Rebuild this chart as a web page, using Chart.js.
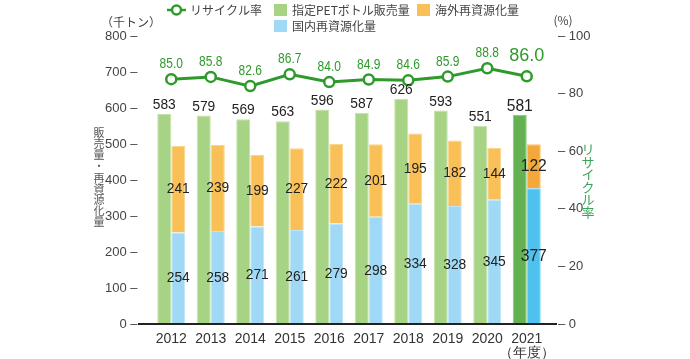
<!DOCTYPE html>
<html>
<head>
<meta charset="utf-8">
<script src="https://cdn.jsdelivr.net/npm/chart.js@4/dist/chart.umd.min.js"></script>
<style>
  html, body { margin: 0; padding: 0; background: #fff; }
  #chart { display: block; }
</style>
</head>
<body>
<canvas id="chart" width="690" height="359"></canvas>
<script>
// Data
const years = ["2012", "2013", "2014", "2015", "2016", "2017", "2018", "2019", "2020", ["2021", "（年度）"]]
const salesVolume = [583, 579, 569, 563, 596, 587, 626, 593, 551, 581]
const domesticVolume = [254, 258, 271, 261, 279, 298, 334, 328, 345, 377]
const overseasVolume = [241, 239, 199, 227, 222, 201, 195, 182, 144, 122]
const recycleRate = [85.0, 85.8, 82.6, 86.7, 84.0, 84.9, 84.6, 85.9, 88.8, 86.0]

const NUM_FONT = "'Liberation Sans', sans-serif"
const JP_FONT = "'Noto Sans CJK JP', sans-serif"

// the last year is highlighted with deeper colours
function colours(normal, last) {
  return salesVolume.map((v, i) => (i === salesVolume.length - 1 ? last : normal))
}

// text squeezed horizontally, the reference uses a narrow face
function narrowText(ctx, text, x, y, sx) {
  ctx.save()
  ctx.translate(x, y)
  ctx.scale(sx, 1)
  ctx.fillText(text, 0, 0)
  ctx.restore()
}

// Legend, axis titles, baseline and value labels
const decorPlugin = {
  id: "decor",
  afterDatasetsDraw(chart) {
    const ctx = chart.ctx
    const area = chart.chartArea
    ctx.save()

    // baseline
    ctx.strokeStyle = "#222"
    ctx.lineWidth = 2
    ctx.beginPath()
    ctx.moveTo(138, area.bottom)
    ctx.lineTo(557, area.bottom)
    ctx.stroke()

    const rateMeta = chart.getDatasetMeta(0)
    const salesMeta = chart.getDatasetMeta(1)
    const domMeta = chart.getDatasetMeta(2)
    const overMeta = chart.getDatasetMeta(3)
    const last = salesVolume.length - 1

    ctx.textAlign = "center"
    ctx.textBaseline = "middle"
    salesVolume.forEach((v, i) => {
      ctx.font = (i === last ? 17 : 15) + "px " + NUM_FONT
      ctx.fillStyle = "#222"
      const s = salesMeta.data[i]
      narrowText(ctx, String(v), s.x, s.y - 9, 0.92)
      const d = domMeta.data[i]
      narrowText(ctx, String(domesticVolume[i]), d.x, (d.y + d.base) / 2, 0.92)
      const o = overMeta.data[i]
      narrowText(ctx, String(overseasVolume[i]), o.x, (o.y + o.base) / 2, 0.92)
      const r = rateMeta.data[i]
      ctx.fillStyle = "#2f9a2c"
      if (i === last) {
        ctx.font = "18px " + NUM_FONT
        narrowText(ctx, recycleRate[i].toFixed(1), r.x, r.y - 20, 1)
      } else {
        ctx.font = "15px " + NUM_FONT
        narrowText(ctx, recycleRate[i].toFixed(1), r.x, r.y - 15, 0.8)
      }
    })

    // unit labels
    ctx.fillStyle = "#444"
    ctx.font = "12px " + JP_FONT
    ctx.fillText("（千トン）", 131, 22)
    ctx.fillText("(%)", 563, 20)

    // vertical axis titles
    ctx.font = "11px " + JP_FONT
    ctx.fillStyle = "#555"
    Array.from("販売量・再資源化量").forEach((ch, i) => ctx.fillText(ch, 99, 133 + i * 11.1))
    ctx.font = "13px " + JP_FONT
    ctx.fillStyle = "#3aa55a"
    Array.from("リサイクル率").forEach((ch, i) => ctx.fillText(ch, 588, 149 + i * 12.6))

    // legend
    ctx.textAlign = "left"
    ctx.font = "12px " + JP_FONT
    ctx.strokeStyle = "#2f9a2c"
    ctx.lineWidth = 2.5
    ctx.beginPath()
    ctx.moveTo(167, 10)
    ctx.lineTo(186, 10)
    ctx.stroke()
    ctx.beginPath()
    ctx.arc(176.5, 10, 4.5, 0, Math.PI * 2)
    ctx.fillStyle = "#fff"
    ctx.fill()
    ctx.stroke()
    ctx.fillStyle = "#444"
    ctx.fillText("リサイクル率", 190, 10)

    const boxes = [
      ["#a7d384", "指定PETボトル販売量", 274, 10],
      ["#f9c057", "海外再資源化量", 417, 10],
      ["#9fd9f6", "国内再資源化量", 274, 26],
    ]
    boxes.forEach(([c, t, x, y]) => {
      ctx.fillStyle = c
      ctx.fillRect(x, y - 6, 13, 12)
      ctx.fillStyle = "#444"
      ctx.fillText(t, x + 18, y)
    })

    ctx.restore()
  },
}

new Chart(document.getElementById("chart").getContext("2d"), {
  data: {
    labels: years,
    datasets: [
      {
        type: "line",
        label: "リサイクル率",
        data: recycleRate,
        yAxisID: "y1",
        borderColor: "#2f9a2c",
        borderWidth: 3,
        pointRadius: 5,
        pointBackgroundColor: "#fff",
        pointBorderColor: "#2f9a2c",
        pointBorderWidth: 2.5,
        tension: 0,
        order: 0,
      },
      {
        type: "bar",
        label: "指定PETボトル販売量",
        data: salesVolume,
        stack: "sales",
        backgroundColor: colours("#a7d384", "#64b152"),
        borderColor: colours("#c3e2a8", "#86c676"),
        borderWidth: 1,
        order: 1,
      },
      {
        type: "bar",
        label: "国内再資源化量",
        data: domesticVolume,
        stack: "recycle",
        backgroundColor: colours("#9fd9f6", "#4fc1ee"),
        borderColor: colours("#bfe5f9", "#7fd2f3"),
        borderWidth: 1,
        order: 1,
      },
      {
        type: "bar",
        label: "海外再資源化量",
        data: overseasVolume,
        stack: "recycle",
        backgroundColor: colours("#f9c057", "#f5a83a"),
        borderColor: colours("#fbd489", "#f8c171"),
        borderWidth: 1,
        order: 1,
      },
    ],
  },
  options: {
    responsive: false,
    maintainAspectRatio: false,
    animation: false,
    layout: { padding: { top: 36, left: 0, right: 0, bottom: 0 } },
    datasets: {
      bar: { categoryPercentage: 0.71, barPercentage: 1.0 },
    },
    plugins: {
      legend: { display: false },
      tooltip: { enabled: false },
    },
    scales: {
      x: {
        stacked: true,
        grid: { display: false },
        border: { display: false },
        ticks: {
          padding: 0,
          color: "#333",
          autoSkip: false,
          maxRotation: 0,
          font: { family: "Liberation Sans", size: 14, lineHeight: 1.0 },
        },
        afterFit: (scale) => { scale.height = 35 },
      },
      y: {
        position: "left",
        stacked: true,
        min: 0,
        max: 800,
        grid: { display: false },
        border: { display: false },
        ticks: {
          stepSize: 100,
          padding: 6,
          color: "#444",
          font: { family: "Liberation Sans", size: 13 },
          callback: (v) => v + " –",
        },
        afterFit: (scale) => { scale.width = 151.5 },
      },
      y1: {
        position: "right",
        min: 0,
        max: 100,
        grid: { display: false },
        border: { display: false },
        ticks: {
          stepSize: 20,
          padding: 3.5,
          color: "#444",
          font: { family: "Liberation Sans", size: 13 },
          callback: (v) => "– " + v,
        },
        afterFit: (scale) => { scale.width = 143.5 },
      },
    },
  },
  plugins: [decorPlugin],
})
</script>
</body>
</html>
